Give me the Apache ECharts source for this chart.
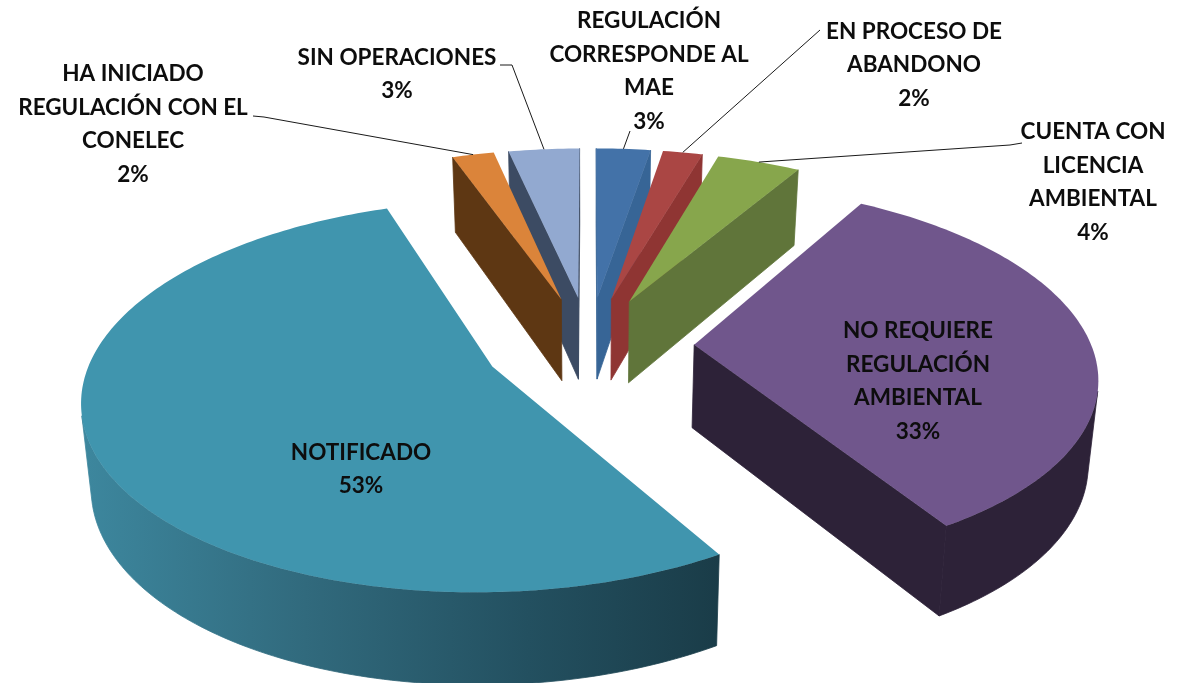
<!DOCTYPE html>
<html>
<head>
<meta charset="utf-8">
<style>html,body{margin:0;padding:0;background:#fff}#c{width:1182px;height:683px}</style>
<script src="https://cdn.jsdelivr.net/npm/echarts@6/dist/echarts.min.js"></script>
</head>
<body>
<div id="c"></div>
<script>
// --- data, clockwise from 12 o'clock ---
const categories = [
  'REGULACIÓN\nCORRESPONDE AL\nMAE',
  'EN PROCESO DE\nABANDONO',
  'CUENTA CON\nLICENCIA\nAMBIENTAL',
  'NO REQUIERE\nREGULACIÓN\nAMBIENTAL',
  'NOTIFICADO',
  'HA INICIADO\nREGULACIÓN CON EL\nCONELEC',
  'SIN OPERACIONES'
];
const values = [2.6, 1.9, 4.0, 32.8, 53.3, 2.0, 3.4];

// --- styling and layout ---
const topColors  = ['#4372a8', '#aa4644', '#87a64c', '#70568c', '#4095ae', '#db843a', '#92a9d0'];
const wallColors = ['#376596', '#8f3533', '#60753a', '#2d2238', '#1a3c48', '#5e3713', '#3c4b63'];
const labelCenters = [[649, 71], [914, 65], [1093, 182], [918, 381], [361, 469], [133, 124], [397, 74]];
const leaderStarts = [[[630, 131]], [[820, 30]], [[1022, 143], [1010, 145]], null, null,
                      [[253, 116], [264, 117]], [[500, 65], [512, 65]]];
const CX = 589, CY = 345, RX = 397, RY = 185, PERSP = 0.15, EXPLODE = 0.265, DEPTH = 83, CONVERGE = 0.02;
const FONT = 'Lato, "Open Sans", sans-serif';

const total = values.reduce((a, b) => a + b, 0);
const rad = d => d * Math.PI / 180;

function project(wx, wy) {            // world plane -> screen, wy>0 toward viewer
  const s = 1 / (1 - PERSP * wy);
  return { x: CX + RX * wx * s, y: CY + RY * wy * s, s };
}
function lower(p) {                   // extrude a top point down through the pie's thickness
  return { x: CX + (p.x - CX) * (1 - CONVERGE), y: p.y + DEPTH * Math.pow(p.s, 0.6) };
}
function pts(list) { return list.map(p => [p.x, p.y]); }
function area(q) {
  let a = 0;
  for (let i = 0; i < q.length; i++) {
    const b = q[(i + 1) % q.length];
    a += q[i].x * b.y - b.x * q[i].y;
  }
  return a;
}

function sliceGeometry(i) {
  let before = 0;
  for (let k = 0; k < i; k++) before += values[k];
  const a0 = before / total * 360, a1 = (before + values[i]) / total * 360, mid = (a0 + a1) / 2;
  const ox = Math.sin(rad(mid)) * EXPLODE, oy = -Math.cos(rad(mid)) * EXPLODE;
  const at = a => project(ox + Math.sin(rad(a)), oy - Math.cos(rad(a)));
  const apex = project(ox, oy);
  const arc = [];
  const steps = Math.max(4, Math.ceil(a1 - a0));
  for (let k = 0; k <= steps; k++) arc.push(at(a0 + (a1 - a0) * k / steps));
  return { apex, arc, mid, midPoint: at(mid) };
}

function wallFill(i) {
  if (categories[i] !== 'NOTIFICADO') return wallColors[i];
  return { type: 'linear', x: 0, y: 0, x2: 1, y2: 0, colorStops: [
    { offset: 0, color: '#3d879e' },
    { offset: 0.35, color: '#316a7d' },
    { offset: 0.7, color: '#235060' },
    { offset: 1, color: wallColors[i] }
  ] };
}

function renderItem(params) {
  const i = params.dataIndex;
  const g = sliceGeometry(i);
  const z2 = Math.round(Math.abs(Math.sin(rad(g.mid))) * 100);
  const children = [];
  const poly = (list, fill, seal) => children.push({
    type: 'polygon', z2, shape: { points: pts(list) },
    style: { fill, stroke: seal ? fill : null, lineWidth: seal ? 0.8 : 0 }, silent: true
  });
  const ring = [g.apex].concat(g.arc);
  [[g.apex, g.arc[0]], [g.arc[g.arc.length - 1], g.apex]].forEach(([a, b]) => {
    const q = [a, b, lower(b), lower(a)];
    if (area(q) < 0) poly(q, wallColors[i], true);
  });
  const vis = [];
  for (let k = 0; k < g.arc.length - 1; k++) {
    const q = [g.arc[k], g.arc[k + 1], lower(g.arc[k + 1]), lower(g.arc[k])];
    if (area(q) < 0) { if (!vis.length) vis.push(g.arc[k]); vis.push(g.arc[k + 1]); }
  }
  if (vis.length > 1) poly(vis.concat(vis.map(lower).reverse()), wallFill(i), true);
  poly(ring, topColors[i], false);
  if (leaderStarts[i]) {
    const line = leaderStarts[i].concat([[g.midPoint.x, g.midPoint.y]]);
    children.push({ type: 'polyline', z2: 500, shape: { points: line },
      style: { stroke: '#1a1a1a', lineWidth: 1, fill: null }, silent: true });
  }
  const pct = Math.round(values[i] / total * 100) + '%';
  children.push({ type: 'text', z2: 1000, x: labelCenters[i][0], y: labelCenters[i][1], silent: true,
    style: { text: categories[i] + '\n' + pct, align: 'center', verticalAlign: 'middle',
      font: 'bold 22.5px ' + FONT, lineHeight: 33.5, fill: '#0d0d0d' } });
  return { type: 'group', children };
}

const chart = echarts.init(document.getElementById('c'), null, { renderer: 'canvas' });
chart.setOption({
  backgroundColor: '#ffffff',
  animation: false,
  series: [{ type: 'custom', coordinateSystem: 'none', name: 'Regulación', renderItem, data: values, silent: true }]
});
</script>
</body>
</html>
